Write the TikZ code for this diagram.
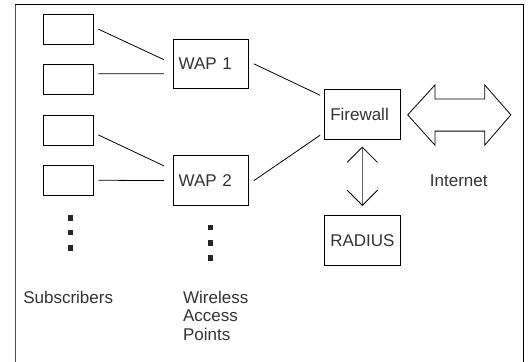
\documentclass[tikz,border=0pt]{standalone}
\usepackage{fontspec}
\setmainfont{Liberation Sans}
\usetikzlibrary{arrows.meta}

\begin{document}
\begin{tikzpicture}[
	font=\fontsize{12.8}{14}\selectfont,
	sub/.style={draw,line width=0.6pt,minimum width=1.32cm,minimum height=0.79cm,inner sep=0},
	box/.style={draw,line width=0.6pt,text width=1.7cm,align=left,inner xsep=0.15cm,minimum height=1.32cm,text=black!80},
	dot/.style={fill=black!85,minimum size=0.14cm,inner sep=0},
	link/.style={line width=0.6pt}]
	\useasboundingbox (0,0) rectangle (14,-9.577);
	% draw frame
	\draw[gray!60!black,line width=1.4pt] (0.41,-9.58) -- (0.41,-0.12);
	\draw[line width=1pt] (0.41,-0.12) -- (13.86,-0.12) -- (13.86,-9.58);
	% subscribers
	\node[sub] (s1) at (1.80,-0.77) {};
	\node[sub] (s2) at (1.80,-2.10) {};
	\node[sub] (s3) at (1.80,-3.44) {};
	\node[sub] (s4) at (1.80,-4.77) {};
	% access points, firewall, radius
	\node[box] (wap1) at (5.58,-1.69) {WAP 1};
	\node[box] (wap2) at (5.58,-4.78) {WAP 2};
	\node[box] (fw) at (9.59,-3.02) {Firewall};
	\node[box] (radius) at (9.59,-6.36) {RADIUS};
	% draw links
	\draw[link] ([xshift=0.13cm]s1.east) -- ([xshift=-0.23cm,yshift=0.11cm]wap1.west);
	\draw[link] ([xshift=0.13cm,yshift=0.15cm]s2.east) -- ([xshift=-0.23cm,yshift=-0.26cm]wap1.west);
	\draw[link] ([xshift=0.13cm,yshift=-0.13cm]s3.east) -- ([xshift=-0.23cm,yshift=0.39cm]wap2.west);
	\draw[link] ([xshift=0.13cm]s4.east) -- ([xshift=-0.23cm]wap2.west);
	\draw[link] ([xshift=0.13cm]wap1.east) -- ([xshift=-0.11cm,yshift=0.5cm]fw.west);
	\draw[link] ([xshift=0.13cm]wap2.east) -- ([xshift=-0.11cm,yshift=-0.56cm]fw.west);
	\draw[gray!80!black,line width=0.6pt,{Straight Barb[length=0.4cm,width=0.8cm,color=black]}-{Straight Barb[length=0.4cm,width=0.8cm,color=black]},shorten <=0.19cm,shorten >=0.24cm] (fw.south) -- (radius.north);
	% draw internet arrow
	\draw[line width=0.6pt] (10.79,-3.04) -- (11.51,-2.25) -- (11.51,-2.62) -- (12.83,-2.62) -- (12.83,-2.25)
		-- (13.52,-3.04) -- (12.83,-3.84) -- (12.83,-3.47) -- (11.51,-3.47) -- (11.51,-3.84) -- cycle;
	\node[text=black!80] (inet) at (12.14,-4.79) {Internet};
	% dots
	\foreach \i/\y in {1/-5.77,2/-6.16,3/-6.56}
		\node[dot] (sd\i) at (1.87,\y) {};
	\foreach \i/\y in {1/-6.03,2/-6.43,3/-6.83}
		\node[dot] (wd\i) at (5.58,\y) {};
	% column labels
	\node[anchor=west,inner sep=0,text=black!80] (subs) at (0.61,-7.86) {Subscribers};
	\node[anchor=west,inner sep=0,align=left,text=black!80] (waps) at (4.84,-8.36) {Wireless\\Access\\Points};
\end{tikzpicture}
\end{document}
